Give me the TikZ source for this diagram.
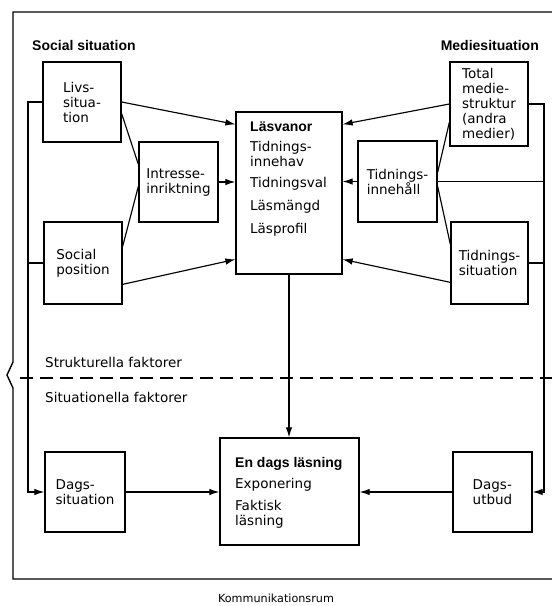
\documentclass[tikz,border=0pt]{standalone}
\usepackage{fontspec}
\setmainfont{DejaVu Sans}
\newfontfamily\libsans{Liberation Sans}
\usetikzlibrary{arrows.meta,calc}
\newcommand\dgfs{\fontsize{13.5}{15}\selectfont}
\newcommand\dgbf{\libsans\bfseries\fontsize{14}{15}\selectfont}
\begin{document}
\begin{tikzpicture}[x=1pt,y=-1pt,
  box/.style={draw, line width=1.3pt, inner sep=0pt, align=left, font=\dgfs},
  ln/.style={line width=1.15pt},
  arr/.style={ln, -{Latex[length=10pt,width=6.5pt]}},
  lbl/.style={inner sep=0pt, font=\dgfs},
  head/.style={inner sep=0pt, font=\dgbf}]
\useasboundingbox (0,0) rectangle (552,606);

% frame
\draw[line width=1.4pt] (552,12) -- (13,12) -- (13,362) -- (7,375) -- (13,388) -- (13,579) -- (552,579);
\draw[line width=1.3pt, dash pattern=on 13pt off 7pt] (20,378) -- (552,378);

% labels
\node[head, anchor=west] (soclbl) at (32,45) {Social situation};
\node[head, anchor=east] (medlbl) at (539,45) {Mediesituation};
\node[lbl, anchor=west] (strlbl) at (45,362) {Strukturella faktorer};
\node[lbl, anchor=west] (sitlbl) at (45,397) {Situationella faktorer};
\node[inner sep=0pt, font=\fontsize{11.2}{13}\selectfont] (komlbl) at (276,598) {Kommunikationsrum};

% boxes
\node[box, minimum width=78, minimum height=80] (livs) at (82,102) {Livs-\\situa-\\tion};
\node[box, minimum width=79, minimum height=80] (intr) at (178.5,182) {Intresse-\\inriktning};
\node[box, minimum width=78, minimum height=82] (soc) at (83,263) {Social\\position};
\node[box, minimum width=106, minimum height=162] (lv) at (289,193) {};
\node[box, minimum width=78, minimum height=84] (tot) at (489,104) {Total\\medie-\\struktur\\(andra\\medier)};
\node[box, minimum width=79, minimum height=81] (tinn) at (397.5,181.5) {Tidnings-\\innehåll};
\node[box, minimum width=77, minimum height=82] (tsit) at (489.5,263) {Tidnings-\\situation};
\node[box, minimum width=139, minimum height=107] (eds) at (289.5,491.5) {};
\node[box, minimum width=80, minimum height=80] (dsit) at (85,492) {Dags-\\situation};
\node[box, minimum width=79, minimum height=80] (dutb) at (492.5,492) {Dags-\\utbud};

% box texts
\node[lbl, anchor=north west, align=left] (lvtxt) at (250,122)
  {{\dgbf Läsvanor}\\[5pt]Tidnings-\\innehav\\[6pt]Tidningsval\\[8pt]Läsmängd\\[8pt]Läsprofil};
\node[lbl, anchor=north west, align=left] (edstxt) at (235,457)
  {{\dgbf En dags läsning}\\[6pt]Exponering\\[7pt]Faktisk\\läsning};

% buses
\coordinate (busL) at (28,102);
\coordinate (busR) at (544,104);
\draw[arr] (livs.west) -- (busL) |- (dsit.west);
\draw[ln] (soc.west) -- (soc.west -| busL);
\draw[arr] (tot.east) -- (busR) |- (dutb.east);
\draw[ln] (tinn.east) -- (tinn.east -| busR);
\draw[ln] (tsit.east) -- (tsit.east -| busR);

% into Läsvanor
\draw[arr] (livs.east) -- ($(lv.north west)+(0,13)$);
\draw[ln] ($(livs.south east)+(0,-29)$) -- ($(intr.north west)+(0,23)$);
\draw[ln] ($(soc.north east)+(0,25)$) -- ($(intr.north west)+(0,45)$);
\draw[arr] (intr.east) -- (intr.east -| lv.west);
\draw[arr] ($(soc.north east)+(0,63)$) -- ($(lv.north west)+(0,148)$);
\draw[arr] (tot.west) -- ($(lv.north east)+(0,13)$);
\draw[ln] ($(tot.north west)+(0,61)$) -- ($(tinn.north east)+(0,32)$);
\draw[ln] ($(tinn.north east)+(0,46)$) -- ($(tsit.north west)+(0,23)$);
\draw[arr] (tinn.west) -- (tinn.west -| lv.east);
\draw[arr] ($(tsit.north west)+(0,61)$) -- ($(lv.north east)+(0,148)$);

% into En dags läsning
\draw[arr] (lv.south) -- (lv.south |- eds.north);
\draw[arr] (dsit.east) -- (dsit.east -| eds.west);
\draw[arr] (dutb.west) -- (dutb.west -| eds.east);
\end{tikzpicture}
\end{document}
